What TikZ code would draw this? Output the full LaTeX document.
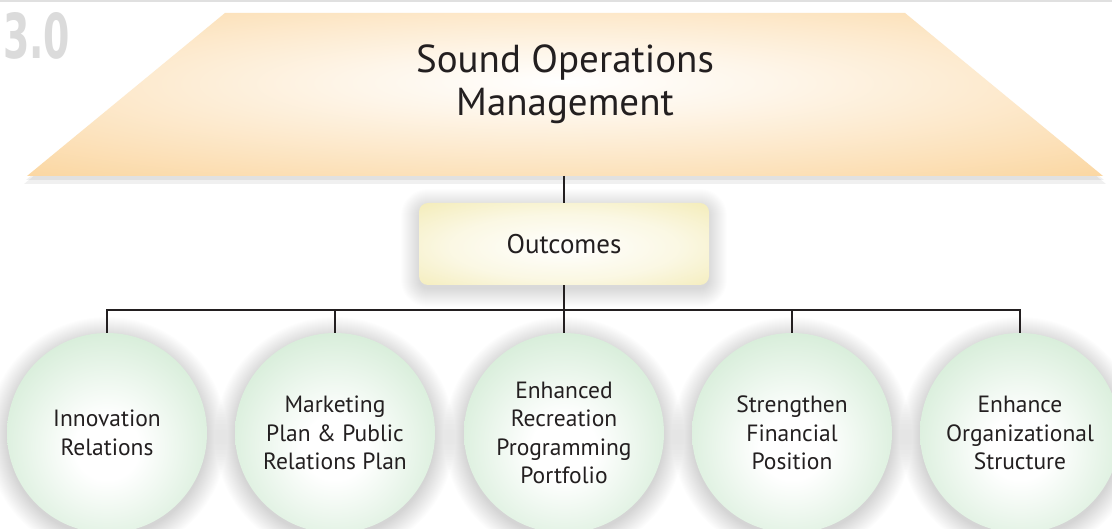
\documentclass[tikz,border=0pt]{standalone}
\usepackage{fontspec}
\usepackage{graphicx}
\setmainfont{PT Sans}
\newfontfamily\numfont{DejaVu Sans}
\definecolor{grn}{HTML}{B9E0BD}
\definecolor{org}{HTML}{FACF90}
\definecolor{ylw}{HTML}{F0E6A2}
\definecolor{ink}{HTML}{231F20}
\pgfdeclareradialshading{ballshade}{\pgfpoint{0bp}{-4bp}}{color(0bp)=(white); color(8bp)=(white); color(44bp)=(grn); color(100bp)=(grn)}
\pgfdeclareradialshading{boxshade}{\pgfpoint{0bp}{-2bp}}{color(0bp)=(white); color(20bp)=(white!70!ylw); color(46bp)=(ylw); color(100bp)=(ylw)}
\pgfdeclareradialshading{trapshade}{\pgfpoint{0bp}{4bp}}{color(0bp)=(white); color(10bp)=(white!80!org); color(44bp)=(org); color(100bp)=(org)}
\tikzset{
  ball/.style={circle, minimum size=200pt, inner sep=0pt, align=center,
    shading=ballshade, text=ink, font=\fontsize{23.5}{28.5}\selectfont},
  outbox/.style={rectangle, rounded corners=9pt, minimum width=290pt, minimum height=82pt,
    inner sep=0pt, shading=boxshade, text=ink, font=\fontsize{27}{30}\selectfont},
  conn/.style={draw=ink, line width=1.8pt},
  shadowlayer/.style={fill=black, opacity=0.009, draw=none},
}
\begin{document}
\begin{tikzpicture}[x=1pt,y=-1pt]
\useasboundingbox (0,0) rectangle (1112,529);
\clip (0,0) rectangle (1112,529);
\fill[white] (0,0) rectangle (1112,529);
\fill[black!12] (0,0) rectangle (1112,2.5);
% number
\node[anchor=north west, inner sep=0pt, text=black!14] (num) at (3,12)
  {\resizebox{67pt}{46pt}{\numfont\bfseries 3.0}};
% trapezoid
\fill[black, opacity=0.06] (225,17) -- (905,17) -- (1106,184) -- (24,184) -- cycle;
\fill[black, opacity=0.06] (225,15) -- (905,15) -- (1104,180) -- (26,180) -- cycle;
\path[shading=trapshade] (225,13) -- (905,13) -- (1103,176) -- (27,176) -- cycle;
\node[text=ink, align=center, font=\fontsize{39}{43}\selectfont] (title) at (565,84)
  {Sound Operations\\Management};
\coordinate (titlebottom) at (564,176);
% soft shadows
\foreach \x in {107,335,564,792,1020}
  \foreach \r in {100,101,...,120}
    \fill[shadowlayer] (\x,437) circle (\r);
\foreach \r in {0,1,...,18}
  \fill[shadowlayer, rounded corners=9pt+\r pt] (419-\r,207-\r) rectangle (709+\r,289+\r);
% outcomes
\node[outbox] (out) at (564,244) {Outcomes};
% circles
\node[ball] (c1) at (107,433) {Innovation\\Relations};
\node[ball] (c2) at (335,433) {Marketing\\Plan \& Public\\Relations Plan};
\node[ball] (c3) at (564,433) {Enhanced\\Recreation\\Programming\\Portfolio};
\node[ball] (c4) at (792,433) {Strengthen\\Financial\\Position};
\node[ball] (c5) at (1020,433) {Enhance\\Organizational\\Structure};
% connectors
\coordinate (bus) at (564,310);
\draw[conn] (titlebottom) -- (out.north);
\draw[conn] (out.south) -- (c3.north);
\draw[conn] (c1.north) -- (c1.north |- bus) -- (c5.north |- bus) -- (c5.north);
\draw[conn] (c2.north) -- (c2.north |- bus);
\draw[conn] (c4.north) -- (c4.north |- bus);
\end{tikzpicture}
\end{document}
